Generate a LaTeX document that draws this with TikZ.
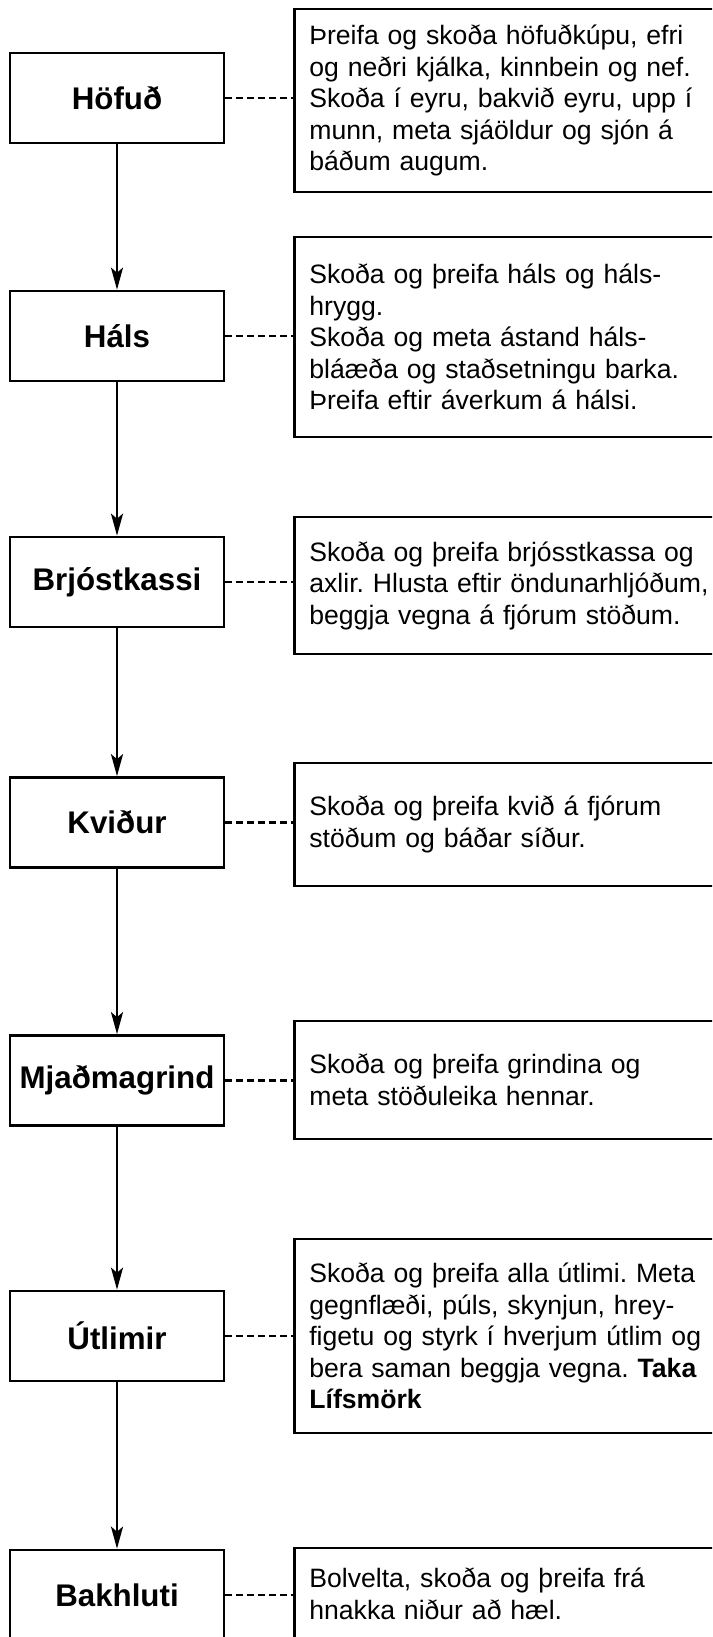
\documentclass[tikz,border=0pt]{standalone}
\usepackage{fontspec}
\setmainfont{Liberation Sans}
\usetikzlibrary{arrows.meta}

\tikzset{
  partbox/.style={draw, line width=2.7pt, rectangle, minimum width=214pt,
    minimum height=90pt, inner sep=0pt,
    font=\bfseries\fontsize{31.3}{36}\selectfont},
  notebox/.style={draw, line width=2.7pt, rectangle, anchor=west,
    minimum width=447pt, text width=417pt, inner xsep=15pt, inner ysep=0pt,
    align=left, font=\frenchspacing\fontsize{26.6}{31.5}\selectfont},
  flow/.style={line width=2.5pt, -{Stealth[length=22pt,width=12pt,inset=5pt]}},
  link/.style={line width=2.2pt, dash pattern=on 7pt off 4pt}
}

\begin{document}
\frenchspacing
\begin{tikzpicture}[x=1pt,y=-1pt]
\useasboundingbox (0,0) rectangle (712,1637);
\clip (0,0) rectangle (712,1637);
\fill[white] (0,0) rectangle (712,1637);

% body regions (left column)
\node[partbox] (hofud)  at (117,98)   {Höfuð};
\node[partbox] (hals)   at (117,336)  {Háls};
\node[partbox] (brjost) at (117,582)  {Brjóstkassi};
\node[partbox] (kvidur) at (117,822.5){Kviður};
\node[partbox] (mjadm)  at (117,1080.5){Mjaðmagrind};
\node[partbox] (utlim)  at (117,1336) {Útlimir};
\node[partbox] (bak)    at (117,1595) {Bakhluti};

% examination notes (right column)
\node[notebox, minimum height=183pt] (n1) at (293,100.5)
  {Þreifa og skoða höfuðkúpu, efri\\og neðri kjálka, kinnbein og nef.\\Skoða í eyru, bakvið eyru, upp í\\munn, meta sjáöldur og sjón á\\báðum augum.};
\node[notebox, minimum height=200pt] (n2) at (293,337)
  {Skoða og þreifa háls og háls-\\hrygg.\\Skoða og meta ástand háls-\\bláæða og staðsetningu barka.\\Þreifa eftir áverkum á hálsi.};
\node[notebox, minimum height=137pt] (n3) at (293,585.5)
  {Skoða og þreifa brjósstkassa og\\axlir. Hlusta eftir öndunarhljóðum,\\beggja vegna á fjórum stöðum.};
\node[notebox, minimum height=123pt] (n4) at (293,824.5)
  {Skoða og þreifa kvið á fjórum\\stöðum og báðar síður.};
\node[notebox, minimum height=118pt] (n5) at (293,1080)
  {Skoða og þreifa grindina og\\meta stöðuleika hennar.};
\node[notebox, minimum height=194pt] (n6) at (293,1336)
  {Skoða og þreifa alla útlimi. Meta\\gegnflæði, púls, skynjun, hrey-\\figetu og styrk í hverjum útlim og\\bera saman beggja vegna. \textbf{Taka}\\\textbf{Lífsmörk}};
\node[notebox, minimum height=92pt] (n7) at (293,1594)
  {Bolvelta, skoða og þreifa frá\\hnakka niður að hæl.};

% sequence of the examination
\foreach \a/\b in {hofud/hals, hals/brjost, brjost/kvidur, kvidur/mjadm, mjadm/utlim, utlim/bak}
  \draw[flow] (\a.south) -- (\b.north);

% links from regions to notes
\foreach \a/\b in {hofud/n1, hals/n2, brjost/n3, kvidur/n4, mjadm/n5, utlim/n6, bak/n7}
  \draw[link] (\a.east) -- (\a.east -| \b.west);
\end{tikzpicture}
\end{document}
